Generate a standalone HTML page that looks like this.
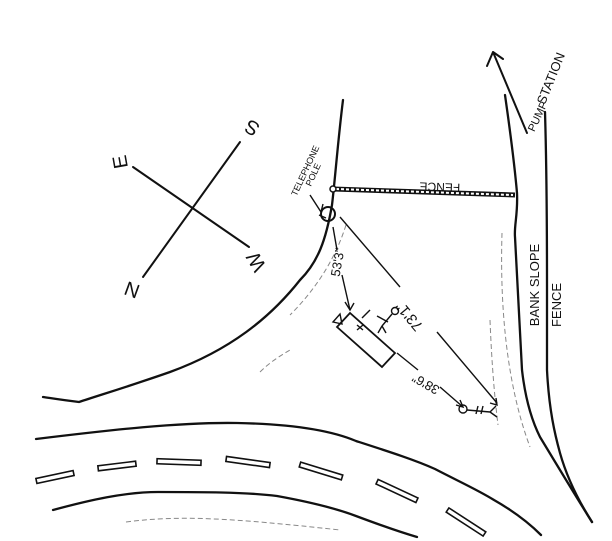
<!DOCTYPE html>
<html><head><style>
html,body{margin:0;padding:0;background:#fff;}
svg{display:block;}
text{font-family:"Liberation Sans",sans-serif;fill:#111;}
</style></head><body>
<svg width="612" height="541" viewBox="0 0 612 541" xmlns="http://www.w3.org/2000/svg">
<g fill="none" stroke="#111" stroke-width="2.3" stroke-linecap="round">
<path d="M343,100 C338,140 335,180 332,205 C326,240 318,262 300,280 C270,318 230,350 170,372 C130,386 100,395 79,402 C62,400 50,398 43,397"/>
<path d="M36,439 C110,430 180,422 237,423 C290,424 330,430 356,441 C390,452 415,460 435,469 C460,482 478,490 494,500 C515,512 530,524 541,535"/>
<path d="M53,510 C90,500 125,492 158,492 C200,492 245,492 277,496 C310,502 335,508 356,516 C380,525 400,532 417,537"/>
<path d="M505,95 C510,130 515,170 517,193 C518,215 514,225 515,237 C518,290 520,340 522,370 C526,405 534,425 540,437 C560,470 575,495 592,522"/>
<path d="M545,112 C547,180 547,240 547,287 C547,330 547,350 547,370 C549,410 555,435 560,453 C567,478 578,500 592,522"/>
<path d="M240,142 L143,277" stroke-width="2"/>
<path d="M133,167 L249,247" stroke-width="2"/>
<path d="M527,133 L493,52 M493,52 L487,66 M493,52 L503,59" stroke-width="2"/>
</g>
<g fill="none" stroke="#888" stroke-width="1" stroke-dasharray="5,3">
<path d="M346,225 C335,260 315,290 290,315"/>
<path d="M502,233 C500,300 505,380 530,447"/>
<path d="M260,372 C270,362 280,356 290,350"/>
<path d="M126,522 C180,515 230,518 340,530"/>
<path d="M490,320 C492,370 495,400 498,425"/>
</g>
<path d="M333,189 L515,195" stroke="#111" stroke-width="5"/>
<path d="M336,189 L513,195" stroke="#fff" stroke-width="2" stroke-dasharray="3,2"/>
<circle cx="333" cy="189" r="3" fill="#fff" stroke="#111" stroke-width="1.5"/>
<g fill="#fff" stroke="#111" stroke-width="1.6">
<rect x="-19" y="-2.5" width="38" height="5" transform="translate(55,477) rotate(-12)"/>
<rect x="-19" y="-2.5" width="38" height="5" transform="translate(117,466) rotate(-7)"/>
<rect x="-22" y="-2.5" width="44" height="5" transform="translate(179,462) rotate(2)"/>
<rect x="-22" y="-2.5" width="44" height="5" transform="translate(248,462) rotate(8)"/>
<rect x="-22" y="-2.5" width="44" height="5" transform="translate(321,471) rotate(17)"/>
<rect x="-22" y="-2.5" width="44" height="5" transform="translate(397,491) rotate(25)"/>
<rect x="-22" y="-2.5" width="44" height="5" transform="translate(466,522) rotate(33)"/>
</g>
<g fill="none" stroke="#111" stroke-width="1.4">
<circle cx="328" cy="214" r="7" stroke-width="2"/>
<path d="M340,217 L400,287 M437,332 L497,403"/>
<path d="M333,227 L337,250 M342,275 L350,310"/>
<path d="M397,353 L418,370 M440,387 L463,407"/>
<path d="M337,327 L350,313 L395,353 L382,367 Z" stroke-width="1.8"/>
<path d="M333,322 L340,314 L342,324 Z"/>
<path d="M357,325 L363,330 M363,325 L357,330"/>
<path d="M362,318 L370,310"/>
<circle cx="395" cy="311" r="3.5"/>
<path d="M392,314 L382,326 M377,316 L388,322 M382,326 L378,333 M382,326 L386,333"/>
<circle cx="463" cy="409" r="4"/>
<path d="M467,410 L490,412 M478,406 L476,414 M483,406 L481,414 M490,412 L496,406 M490,412 L497,417"/>
<path d="M496,398 L497,405 L490,403"/>
<path d="M345,302 L350,310 L354,303"/>
<path d="M460,400 L463,407 L456,405"/>
<path d="M319,215 L326,218 M310,195 L321,212 L323,204"/>
</g>
<g>
<text transform="translate(440,183) rotate(182)" text-anchor="middle" font-size="12">FENCE</text>
<text transform="translate(413,313) rotate(230)" text-anchor="middle" font-size="15">73'1"</text>
<text transform="translate(342,263) rotate(-80)" text-anchor="middle" font-size="13">53'3"</text>
<text transform="translate(428,380) rotate(210)" text-anchor="middle" font-size="13">38'6"</text>
<text transform="translate(539,285) rotate(-90)" text-anchor="middle" font-size="13">BANK SLOPE</text>
<text transform="translate(561,305) rotate(-90)" text-anchor="middle" font-size="13">FENCE</text>
<text transform="translate(541,118) rotate(-65)" text-anchor="middle" font-size="11">PUMP</text>
<text transform="translate(555,80) rotate(-68)" text-anchor="middle" font-size="13">STATION</text>
<text transform="translate(308,172) rotate(-65)" text-anchor="middle" font-size="9">TELEPHONE</text>
<text transform="translate(316,176) rotate(-65)" text-anchor="middle" font-size="9">POLE</text>
<text transform="translate(252,128) rotate(-150)" text-anchor="middle" font-size="20" dy="7">S</text>
<text transform="translate(120,162) rotate(-100)" text-anchor="middle" font-size="20" dy="7">E</text>
<text transform="translate(256,262) rotate(-120)" text-anchor="middle" font-size="20" dy="7">W</text>
<text transform="translate(132,290) rotate(-160)" text-anchor="middle" font-size="20" dy="7">N</text>
</g>
</svg>
</body></html>
